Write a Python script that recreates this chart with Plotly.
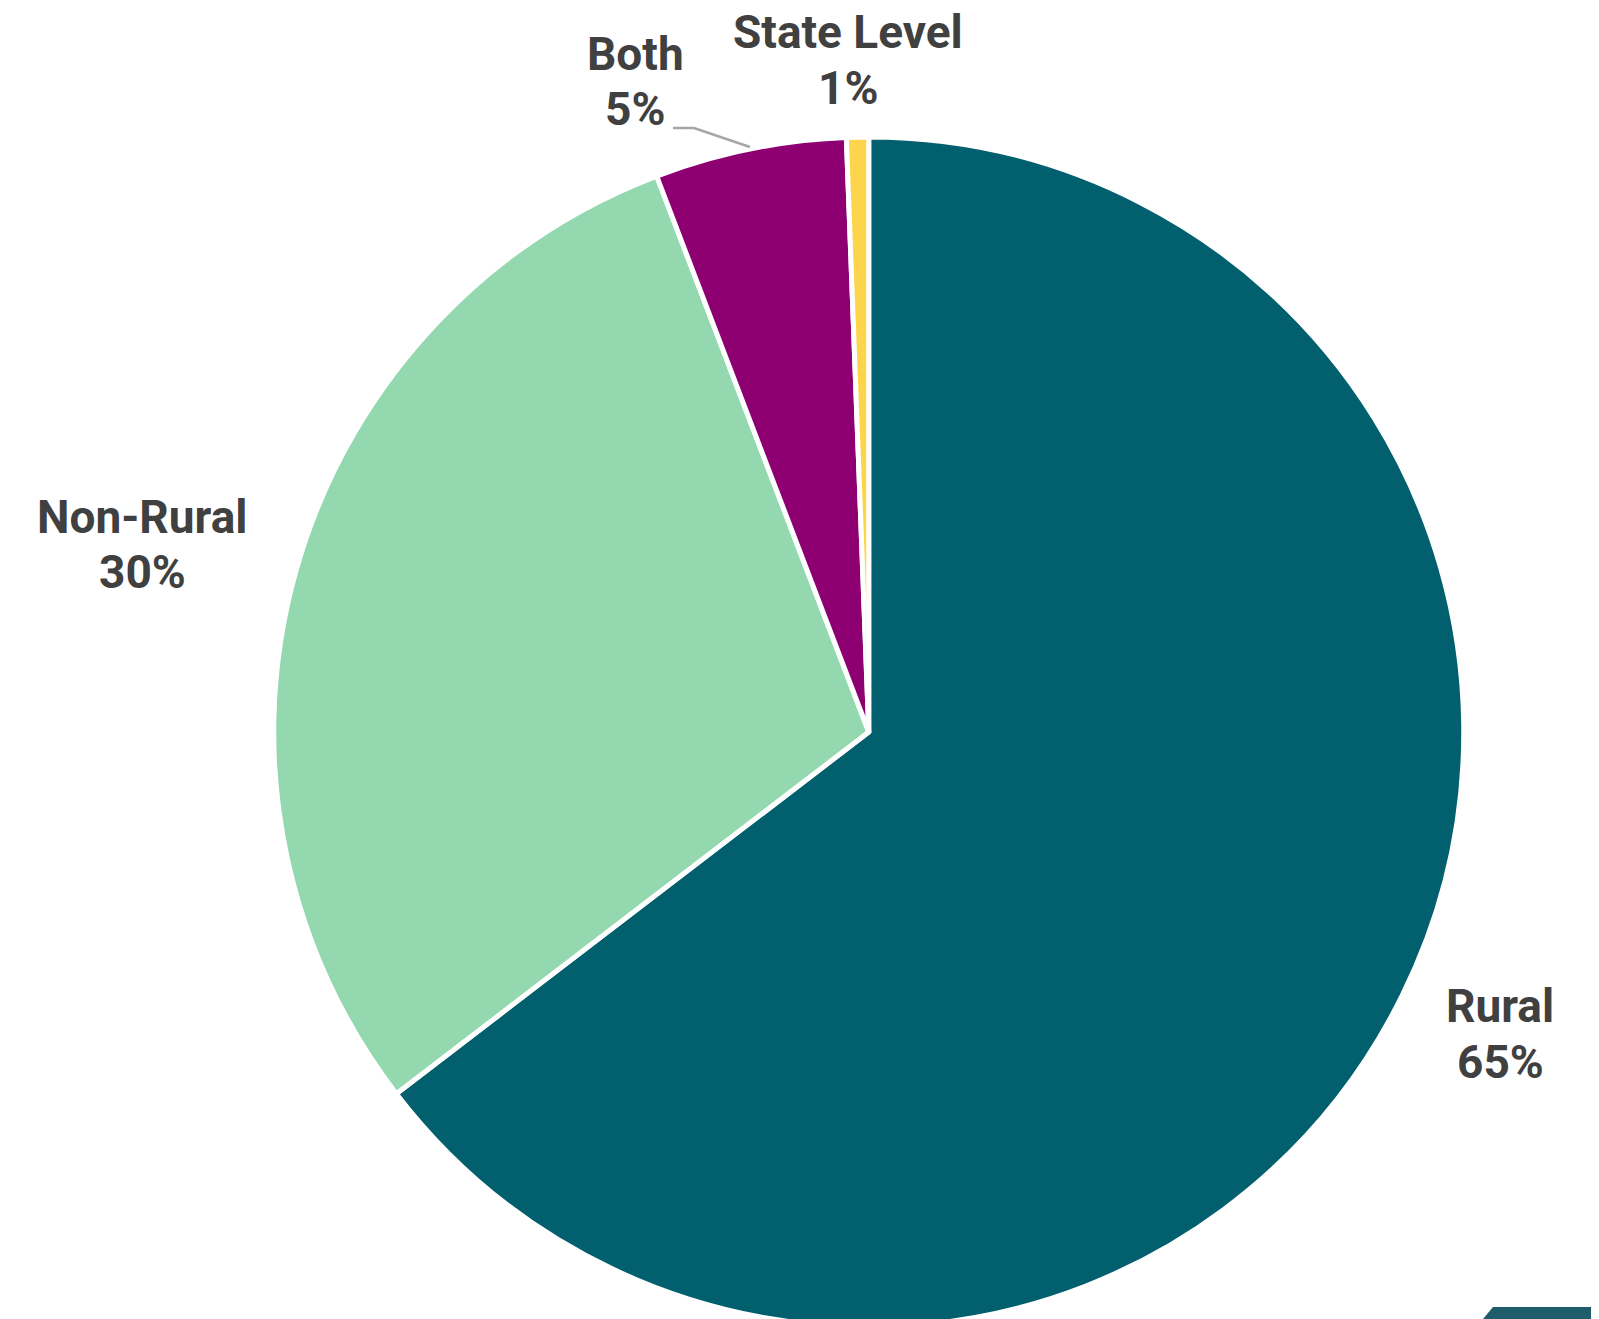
import plotly.graph_objects as go

labels = ["Rural", "Non-Rural", "Both", "State Level"]
values = [64.6, 29.6, 5.2, 0.6]
colors = ["#02606E", "#94D8B0", "#8E0071", "#FDD54C"]

W, H = 1599, 1319
OFF = 8  # page body margin in the browser


def px(x):
    return (x - OFF) / W


def py(y):
    return 1 - (y - OFF) / H


# label block centres (screen pixels): name line y, percent line y
label_x = [1500, 142, 635, 848]
label_name_y = [1006, 517, 54, 32]
label_pct_y = [1062, 572, 109, 88]

total = sum(values)
pcts = [f"{round(v / total * 100)}%" for v in values]

fig = go.Figure(
    go.Pie(
        labels=labels,
        values=values,
        sort=False,
        direction="clockwise",
        rotation=0,
        automargin=False,
        marker=dict(colors=colors, line=dict(color="white", width=5)),
        textinfo="none",
        showlegend=False,
        hoverinfo="label+percent",
        domain=dict(x=[px(272.5), px(1465)], y=[0, py(137)]),
    )
)

font = dict(family="Roboto", size=46, color="#404040")
annotations = []
for lab, p, x, yn, yp in zip(labels, pcts, label_x, label_name_y, label_pct_y):
    annotations.append(dict(x=px(x), y=py(yn), xref="paper", yref="paper",
                            text=f"<b>{lab}</b>", showarrow=False, font=font,
                            xanchor="center", yanchor="middle"))
    annotations.append(dict(x=px(x), y=py(yp), xref="paper", yref="paper",
                            text=f"<b>{p}</b>", showarrow=False, font=font,
                            xanchor="center", yanchor="middle"))


def path(points):
    return "M " + " L ".join(f"{px(x)} {py(y)}" for x, y in points) + " Z"


fig.update_layout(
    width=W,
    height=H,
    margin=dict(l=0, r=0, t=0, b=0, autoexpand=False),
    paper_bgcolor="white",
    plot_bgcolor="white",
    showlegend=False,
    annotations=annotations,
    shapes=[
        # leader line for "Both"
        dict(type="path", xref="paper", yref="paper",
             path="M {} {} L {} {} L {} {}".format(px(673), py(128), px(694), py(128), px(750), py(147)),
             line=dict(color="#A6A6A6", width=2.5)),
        # corner decoration
        dict(type="path", xref="paper", yref="paper",
             path=path([(1478, 1325), (1493, 1307), (1598, 1307), (1588, 1325)]),
             fillcolor="#1E5E6B", line=dict(width=0)),
        dict(type="path", xref="paper", yref="paper",
             path=path([(1588, 1325), (1598, 1307), (1610, 1307), (1610, 1325)]),
             fillcolor="#94D8B0", line=dict(width=0)),
    ],
)

fig.write_html("out.html")
